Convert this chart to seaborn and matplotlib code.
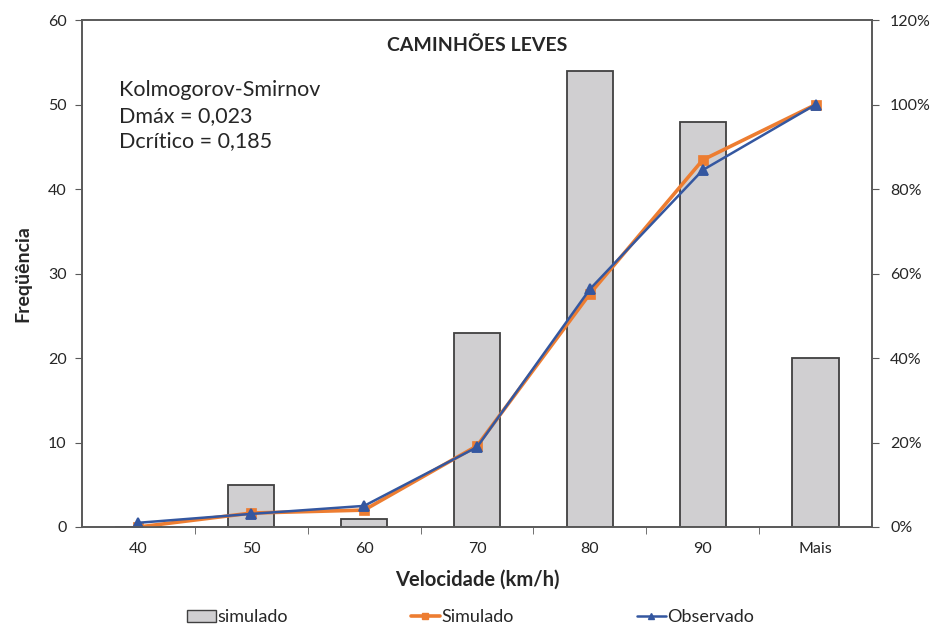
import matplotlib
matplotlib.use('Agg')
import matplotlib.pyplot as plt
import seaborn as sns
import numpy as np
import pandas as pd
from matplotlib.patches import Patch
from matplotlib.lines import Line2D
from matplotlib.ticker import FuncFormatter, FixedLocator

# Data
categorias = ['40', '50', '60', '70', '80', '90', 'Mais']
frequencia = [0, 5, 1, 23, 54, 48, 20]
acum_simulado = [0.0, 3.3, 4.0, 19.2, 55.2, 86.9, 100.0]
acum_observado = [1.0, 3.1, 5.0, 18.9, 56.3, 84.5, 100.0]

sns.set_style('white')
plt.rcParams['font.family'] = ['Lato', 'DejaVu Sans']

cinza = '#d0cfd1'
laranja = '#ED7D31'
azul = '#3457A0'
eixo = '#595959'

fig = plt.figure(figsize=(9.32, 6.3), dpi=100)
ax = fig.add_axes([0.088, 0.1635, 0.8476, 0.8045])

df = pd.DataFrame({'cat': categorias, 'freq': frequencia})
sns.barplot(data=df, x='cat', y='freq', ax=ax, color=cinza, width=0.41,
            edgecolor='#404040', linewidth=1.3, saturation=1)

ax.set_ylim(0, 60)
ax.set_yticks(range(0, 61, 10))
ax.set_xlabel('Velocidade (km/h)', fontsize=14.5, fontweight='bold', labelpad=10)
ax.set_ylabel('Freqüência', fontsize=14, fontweight='bold', labelpad=12)

# second axis with cumulative percentages
ax2 = ax.twinx()
sns.pointplot(x=categorias, y=acum_simulado, ax=ax2, color=laranja, markers='s',
              markersize=6, linewidth=2.6)
sns.pointplot(x=categorias, y=acum_observado, ax=ax2, color=azul, markers='^',
              markersize=6.5, linewidth=1.8)
ax2.set_ylim(0, 120)
ax2.set_yticks(range(0, 121, 20))
ax2.yaxis.set_major_formatter(FuncFormatter(lambda v, p: f'{int(v)}%'))
ax2.set_ylabel('')

for a in (ax, ax2):
    a.set_xlim(-0.5, len(categorias) - 0.5)
    for s in a.spines.values():
        s.set_color(eixo)
        s.set_linewidth(1.2)
        s.set_visible(True)

ax.set_xticks(range(len(categorias)))
ax.set_xticklabels(categorias)
ax.xaxis.set_minor_locator(FixedLocator(np.arange(0.5, len(categorias) - 1, 1)))
ax.tick_params(axis='x', which='major', length=0, labelsize=11.5, pad=11)
ax.tick_params(axis='x', which='minor', bottom=True, length=5, color=eixo, direction='out')
ax.tick_params(axis='y', left=True, length=5, color=eixo, direction='out', labelsize=11.5, pad=6)
ax2.tick_params(axis='y', right=True, length=5, color=eixo, direction='out', labelsize=11.5, pad=8)
ax2.tick_params(axis='x', length=0)

ax.text(0.5, 0.968, 'CAMINHÕES LEVES', transform=ax.transAxes, ha='center', va='top',
        fontsize=14, fontweight='bold')
ax.text(0.047, 0.882, 'Kolmogorov-Smirnov\nDmáx = 0,023\nDcrítico = 0,185',
        transform=ax.transAxes, ha='left', va='top', fontsize=15.5, linespacing=1.36)

handles = [
    Patch(facecolor=cinza, edgecolor='#404040', label='simulado'),
    Line2D([0], [0], color=laranja, marker='s', markersize=5, linewidth=2.6, label='Simulado'),
    Line2D([0], [0], color=azul, marker='^', markersize=5, linewidth=1.8, label='Observado'),
]
fig.legend(handles=handles, loc='center', bbox_to_anchor=(0.505, 0.02), ncol=3,
           frameon=False, fontsize=13, columnspacing=6.8, handlelength=1.6,
           handletextpad=0.1)

fig.savefig('out.png', dpi=100)
